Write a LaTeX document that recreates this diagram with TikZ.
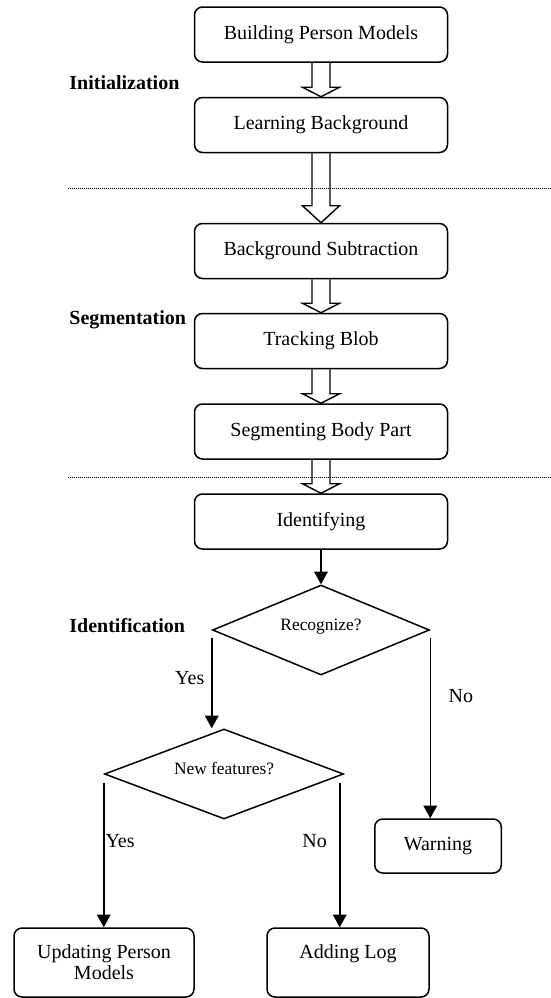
\documentclass[tikz,border=0pt]{standalone}
\usepackage{fontspec}
\setmainfont{Liberation Serif}
\usetikzlibrary{shapes.geometric,arrows.meta,calc}

\newcommand{\hollowarrow}[3][9.5]{%
  \draw[hollow] ($(#2.south)+(-9,0)$) -- ($(#3.north)+(-9,-#1)$) -- ($(#3.north)+(-18.5,-#1)$) -- (#3.north)
    -- ($(#3.north)+(18.5,-#1)$) -- ($(#3.north)+(9,-#1)$) -- ($(#2.south)+(9,0)$);}

\begin{document}
\begin{tikzpicture}[x=0.5pt,y=-0.5pt,
    box/.style={draw,line width=0.75pt,rounded corners=4pt,minimum width=126.5pt,minimum height=27.5pt,inner sep=0pt,align=center,font=\fontsize{10}{10.5}\selectfont},
    decision/.style={draw,diamond,line width=0.75pt,inner sep=0pt,aspect=2.4,text height=6pt,text depth=6pt,font=\fontsize{8.7}{10}\selectfont},
    stage/.style={anchor=base west,inner sep=0pt,font=\fontsize{10}{12}\selectfont\bfseries},
    lbl/.style={font=\fontsize{10}{12}\selectfont},
    hollow/.style={line width=0.7pt},
    flow/.style={line width=0.75pt,-{Triangle[length=6.3pt,width=6.8pt]}},
    divider/.style={line width=0.4pt,dash pattern=on 0.5pt off 0.5pt}]
            \useasboundingbox (0,0) rectangle (551,998);
            \node[box] (build) at (321,34.5) {Building Person Models};
            \node[box] (learn) at (321,125) {Learning Background};
            \node[box] (bgsub) at (321,251) {Background Subtraction};
            \node[box] (track) at (321,341) {Tracking Blob};
            \node[box] (segm) at (321,431.5) {Segmenting Body Part};
            \node[box] (ident) at (321,521.5) {Identifying};
            \node[decision,minimum width=108.5pt,minimum height=45pt] (recog) at (321,630) {Recognize?};
            \node[decision,minimum width=119.5pt,minimum height=45pt] (newf) at (224,774) {New features?};
            \node[box,minimum width=63.25pt,minimum height=27pt] (warn) at (438,846) {Warning};
            \node[box,minimum width=90pt,minimum height=34.5pt] (upd) at (104,962.5) {Updating Person\\Models};
            \node[box,minimum width=81pt,minimum height=34.5pt] (addlog) at (348,962.5) {Adding Log\\\mbox{}};
            \node[stage] (init) at (69,89.5) {Initialization};
            \node[stage] (seg) at (69,324) {Segmentation};
            \node[stage] (idf) at (69,632) {Identification};
            \draw[divider] (67.5,188) -- (551,188);
            \draw[divider] (67.5,477) -- (551,477);
            \hollowarrow{build}{learn}
            \hollowarrow[17]{learn}{bgsub}
            \hollowarrow{bgsub}{track}
            \hollowarrow{track}{segm}
            \hollowarrow{segm}{ident}
            \draw[flow] (ident.south) -- (recog.north);
            \coordinate (recyes) at ($(recog.west)+(0,8)$);
            \coordinate (recno) at ($(recog.east)+(0,8)$);
            \coordinate (nfyes) at ($(newf.west)+(0,9)$);
            \coordinate (nfno) at ($(newf.east)+(-4.5,9)$);
            \draw[flow] (recyes) -- node[lbl,pos=0.44,left] (yes1) {Yes} (recyes |- newf.north);
            \draw[flow] (recno) -- node[lbl,pos=0.32,right=5.5pt] (no1) {No} (recno |- warn.north);
            \draw[flow] (nfyes) -- node[lbl,pos=0.4,right,inner xsep=0.5pt] (yes2) {Yes} (nfyes |- upd.north);
            \draw[flow] (nfno) -- node[lbl,pos=0.4,left=2.7pt] (no2) {No} (nfno |- addlog.north);
        \end{tikzpicture}
\end{document}
